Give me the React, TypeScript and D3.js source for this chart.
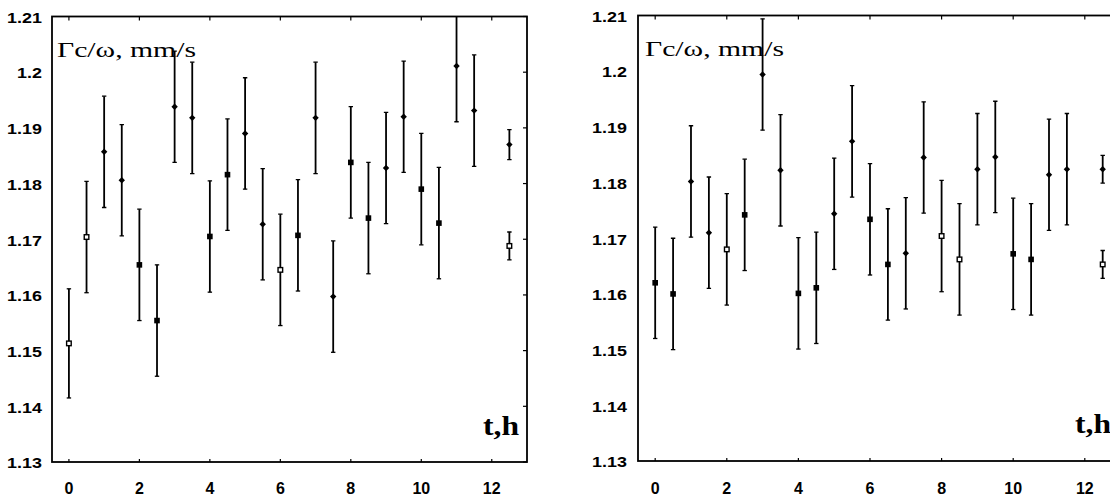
import React from 'react';
import * as d3 from 'd3';

// time points (hours); the last two share t = 12.5
const tHours = [0, 0.5, 1, 1.5, 2, 2.5, 3, 3.5, 4, 4.5, 5, 5.5, 6, 6.5, 7, 7.5, 8, 8.5, 9, 9.5, 10, 10.5, 11, 11.5, 12.5, 12.5];

const leftValues = [1.1513, 1.1704, 1.1857, 1.1806, 1.1654, 1.1554, 1.1938, 1.1918, 1.1705, 1.1816, 1.189, 1.1727, 1.1645, 1.1707, 1.1918, 1.1597, 1.1838, 1.1738, 1.1828, 1.192, 1.179, 1.1729, 1.2011, 1.1931, 1.187, 1.1688];
const leftErrors = [0.0098, 0.01, 0.01, 0.01, 0.01, 0.01, 0.01, 0.01, 0.01, 0.01, 0.01, 0.01, 0.01, 0.01, 0.01, 0.01, 0.01, 0.01, 0.01, 0.01, 0.01, 0.01, 0.01, 0.01, 0.0027, 0.0025];
const leftMarkers = ['o', 'o', 'd', 'd', 's', 's', 'd', 'd', 's', 's', 'd', 'd', 'o', 's', 'd', 'd', 's', 's', 'd', 'd', 's', 's', 'd', 'd', 'd', 'o'];

const rightValues = [1.162, 1.16, 1.1802, 1.171, 1.168, 1.1742, 1.1994, 1.1822, 1.1601, 1.1611, 1.1744, 1.1874, 1.1734, 1.1653, 1.1673, 1.1845, 1.1704, 1.1662, 1.1824, 1.1846, 1.1672, 1.1662, 1.1814, 1.1824, 1.1824, 1.1653];
const rightErrors = [0.01, 0.01, 0.01, 0.01, 0.01, 0.01, 0.01, 0.01, 0.01, 0.01, 0.01, 0.01, 0.01, 0.01, 0.01, 0.01, 0.01, 0.01, 0.01, 0.01, 0.01, 0.01, 0.01, 0.01, 0.0025, 0.0025];
const rightMarkers = ['s', 's', 'd', 'd', 'o', 's', 'd', 'd', 's', 's', 'd', 'd', 's', 's', 'd', 'd', 'o', 'o', 'd', 'd', 's', 's', 'd', 'd', 'd', 'o'];

const xTicks = [0, 2, 4, 6, 8, 10, 12];
const yTicks = [1.13, 1.14, 1.15, 1.16, 1.17, 1.18, 1.19, 1.2, 1.21];
const yTickLabels = ['1.13', '1.14', '1.15', '1.16', '1.17', '1.18', '1.19', '1.2', '1.21'];

const yLabel = 'Γc/ω, mm/s';
const xLabel = 't,h';

const SANS = 'Liberation Sans, Arial, sans-serif';
const SERIF = 'Liberation Serif, Times New Roman, serif';

// the scanned figure is stretched sideways, so y tick labels get a wider box
const stretchedWidth = (s: string, size: number) => {
  let em = 0;
  for (const ch of s) em += ch === '.' ? 0.278 : 0.556;
  return em * size * 1.28;
};

interface PanelProps {
  id: string;
  values: number[];
  errors: number[];
  markers: string[];
  left: number;
  width: number;
  top: number;
  bottom: number;
  labelRight: number;
  yLabelX: number;
  yLabelY: number;
  xLabelX: number;
  xLabelY: number;
}

const Marker: React.FC<{ kind: string; cx: number; cy: number }> = ({ kind, cx, cy }) => {
  if (kind === 'd') {
    const r = 3.2;
    return <path d={`M${cx},${cy - r}L${cx + r},${cy}L${cx},${cy + r}L${cx - r},${cy}Z`} fill="#000" />;
  }
  if (kind === 's') {
    return <rect x={cx - 2.8} y={cy - 2.8} width={5.6} height={5.6} fill="#000" />;
  }
  return <rect x={cx - 2.3} y={cy - 2.3} width={4.6} height={4.6} fill="#fff" stroke="#000" strokeWidth={1.4} />;
};

const Panel: React.FC<PanelProps> = (p) => {
  const x = d3.scaleLinear().domain([-0.48, 13]).range([p.left, p.left + p.width]);
  const y = d3.scaleLinear().domain([1.13, 1.21]).range([p.bottom, p.top]);
  const [x0, x1] = x.range();
  const y0 = p.bottom;
  const y1 = p.top;

  return (
    <g>
      <defs>
        <clipPath id={p.id}>
          <rect x={x0} y={y1} width={x1 - x0} height={y0 - y1} />
        </clipPath>
      </defs>

      {/* frame */}
      <rect x={x0} y={y1} width={x1 - x0} height={y0 - y1} fill="none" stroke="#000" strokeWidth={1.8} />

      {/* inward ticks: top & bottom for x, right for y */}
      {xTicks.map((t) => (
        <g key={'xt' + t}>
          <line x1={x(t)} x2={x(t)} y1={y1} y2={y1 + 4} stroke="#000" strokeWidth={1.2} />
          <line x1={x(t)} x2={x(t)} y1={y0} y2={y0 - 3} stroke="#000" strokeWidth={1.2} />
          <text x={x(t)} y={494} textAnchor="middle" fontFamily={SANS} fontWeight="bold" fontSize={16}>
            {t}
          </text>
        </g>
      ))}
      {yTicks.map((v, i) => (
        <g key={'yt' + v}>
          <line x1={x1} x2={x1 - 4} y1={y(v)} y2={y(v)} stroke="#000" strokeWidth={1.2} />
          <text
            x={p.labelRight}
            y={y(v)}
            dy="0.45em"
            textAnchor="end"
            fontFamily={SANS}
            fontWeight="bold"
            fontSize={14}
            textLength={stretchedWidth(yTickLabels[i], 14)}
            lengthAdjust="spacingAndGlyphs"
          >
            {yTickLabels[i]}
          </text>
        </g>
      ))}

      {/* error bars and markers */}
      <g clipPath={`url(#${p.id})`}>
        {p.values.map((v, i) => {
          const cx = x(tHours[i]);
          const yt = y(v + p.errors[i]);
          const yb = y(v - p.errors[i]);
          return (
            <g key={i}>
              <line x1={cx} x2={cx} y1={yt} y2={yb} stroke="#000" strokeWidth={1.8} />
              <line x1={cx - 2.2} x2={cx + 2.2} y1={yt} y2={yt} stroke="#000" strokeWidth={1.3} />
              <line x1={cx - 2.2} x2={cx + 2.2} y1={yb} y2={yb} stroke="#000" strokeWidth={1.3} />
              <Marker kind={p.markers[i]} cx={cx} cy={y(v)} />
            </g>
          );
        })}
      </g>

      <text x={p.yLabelX} y={p.yLabelY} fontFamily={SERIF} fontSize={22} textLength={139} lengthAdjust="spacingAndGlyphs">
        {yLabel}
      </text>
      <text x={p.xLabelX} y={p.xLabelY} fontFamily={SERIF} fontWeight="bold" fontSize={27} textLength={36} lengthAdjust="spacingAndGlyphs">
        {xLabel}
      </text>
    </g>
  );
};

export default function App() {
  return (
    <svg width={1110} height={496} style={{ position: 'absolute', left: 0, top: 0, background: '#fff' }}>
      <rect width={1110} height={496} fill="#fff" />
      <Panel
        id="clipL"
        values={leftValues}
        errors={leftErrors}
        markers={leftMarkers}
        left={52}
        width={475}
        top={16.5}
        bottom={462}
        labelRight={42}
        yLabelX={57}
        yLabelY={57}
        xLabelX={483}
        xLabelY={435}
      />
      <Panel
        id="clipR"
        values={rightValues}
        errors={rightErrors}
        markers={rightMarkers}
        left={638}
        width={482.6}
        top={15.5}
        bottom={461}
        labelRight={627}
        yLabelX={645}
        yLabelY={56}
        xLabelX={1075}
        xLabelY={433}
      />
    </svg>
  );
}
